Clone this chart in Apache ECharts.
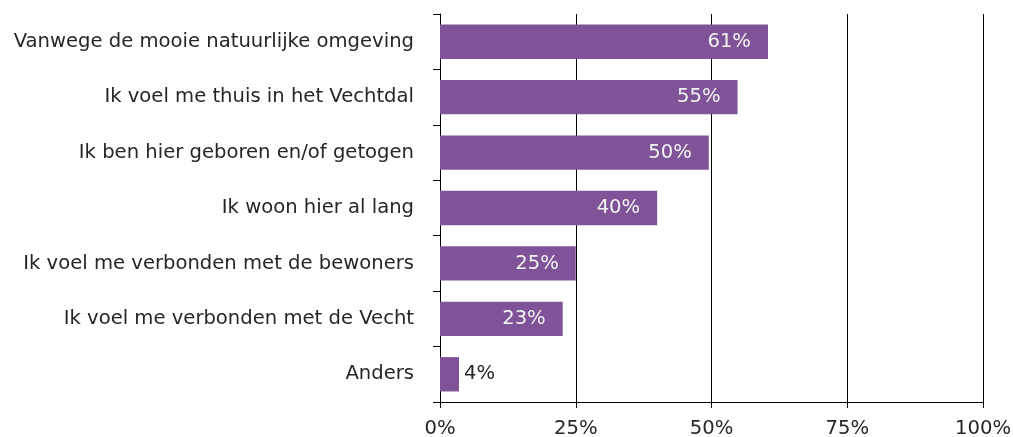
<!DOCTYPE html>
<html><head><meta charset="utf-8">
<script src="https://cdn.jsdelivr.net/npm/echarts@6/dist/echarts.min.js"></script>
<style>html,body{margin:0;padding:0;background:#fff}#c{width:1013px;height:437px}</style>
</head><body><div id="c"></div>
<script>
const categories = [
  "Vanwege de mooie natuurlijke omgeving",
  "Ik voel me thuis in het Vechtdal",
  "Ik ben hier geboren en/of getogen",
  "Ik woon hier al lang",
  "Ik voel me verbonden met de bewoners",
  "Ik voel me verbonden met de Vecht",
  "Anders"
];
const values = [60.4, 54.8, 49.5, 40.0, 25.0, 22.6, 3.5];
const valueLabels = ["61%", "55%", "50%", "40%", "25%", "23%", "4%"];
const xTicks = [0, 25, 50, 75, 100];

const FONT = "DejaVu Sans";
const FS = 19.6;
const chart = echarts.init(document.getElementById('c'), null, {renderer: 'canvas'});
const data = values.map((v, i) => i === values.length - 1
  ? {value: v, label: {position: 'right', distance: 5, color: '#262626'}}
  : v);
chart.setOption({
  animation: false,
  grid: {left: 440, right: 30, top: 14, bottom: 35, containLabel: false, outerBoundsMode: 'none'},
  xAxis: {
    type: 'value', min: xTicks[0], max: xTicks[xTicks.length - 1], interval: 25,
    axisLine: {show: true, lineStyle: {color: '#000', width: 1}},
    axisTick: {show: true, length: 6, lineStyle: {color: '#000'}},
    splitLine: {show: true, lineStyle: {color: '#000', width: 1}},
    axisLabel: {formatter: v => v + '%', color: '#262626', fontFamily: FONT, fontSize: FS, margin: 17}
  },
  yAxis: {
    type: 'category', data: categories, inverse: true,
    axisLine: {show: true, lineStyle: {color: '#000', width: 1}},
    axisTick: {show: true, length: 7, lineStyle: {color: '#000'}},
    axisLabel: {color: '#262626', fontFamily: FONT, fontSize: FS, margin: 26}
  },
  series: [{
    type: 'bar', data: data, barCategoryGap: '38%',
    itemStyle: {color: '#7F5397'},
    label: {
      show: true, fontFamily: FONT, fontSize: FS,
      formatter: p => valueLabels[p.dataIndex],
      position: 'insideRight', distance: 17, color: '#F2F2F2'
    }
  }]
});
</script></body></html>
